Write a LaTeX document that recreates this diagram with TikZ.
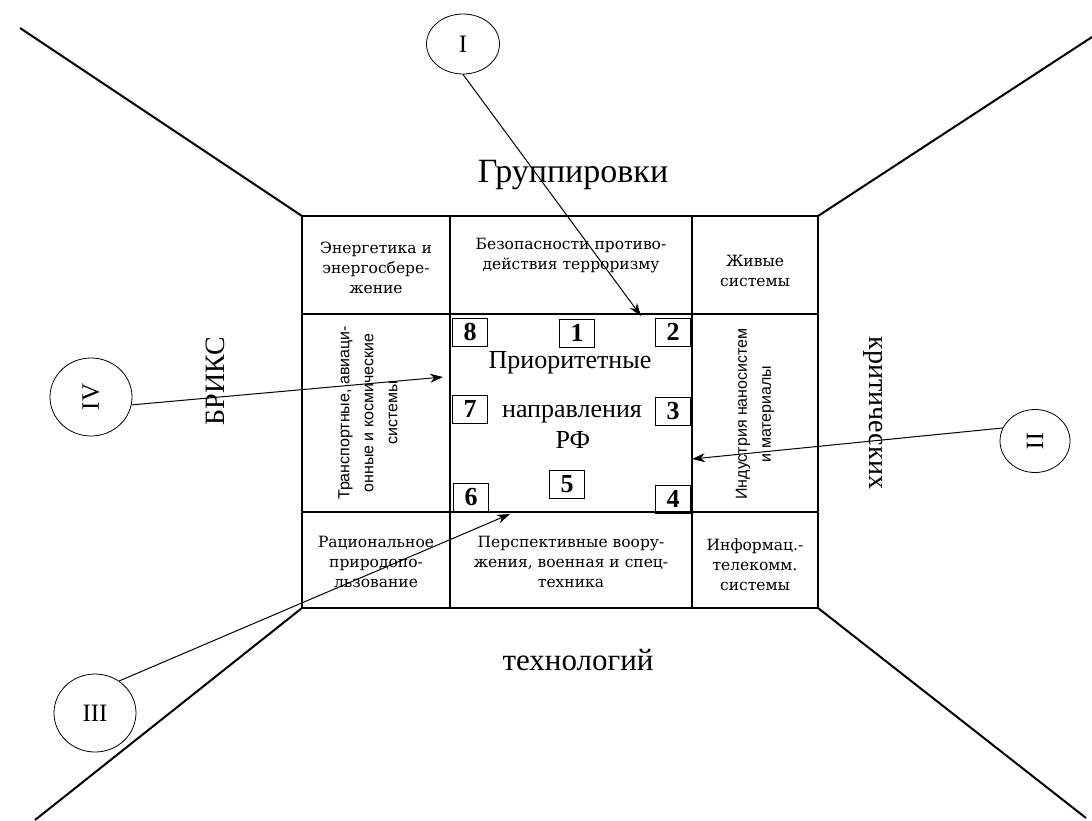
\documentclass[tikz,border=0pt]{standalone}
\usepackage{fontspec}
\setmainfont{Liberation Serif}
\newfontfamily\cellfont{DejaVu Serif}
\newfontfamily\sansf{Liberation Sans}
\usetikzlibrary{arrows.meta,shapes.geometric}
\begin{document}
\begin{tikzpicture}[x=1pt,y=-1pt,
  frame/.style={line width=2pt},
  persp/.style={line width=2pt},
  cell/.style={font=\cellfont\fontsize{15.5}{20}\selectfont, align=center, inner sep=0pt},
  rotcell/.style={font=\sansf\fontsize{16}{24}\selectfont, align=center, inner sep=0pt, rotate=90},
  numbox/.style={draw, line width=1pt, minimum width=35pt, minimum height=28pt, inner sep=0pt, font=\bfseries\fontsize{26}{26}\selectfont},
  center text/.style={font=\fontsize{26}{26}\selectfont, inner sep=0pt},
  outer/.style={font=\fontsize{31}{31}\selectfont, inner sep=0pt},
  roman/.style={draw, ellipse, line width=0.8pt, inner sep=0pt, font=\fontsize{25}{25}\selectfont},
  pointer/.style={line width=1pt, -{Stealth[length=13pt,width=9pt]}}
]
\useasboundingbox (0,0) rectangle (1092,820);

% perspective lines
\coordinate (gTL) at (302,216);
\coordinate (gTR) at (818,216);
\coordinate (gBL) at (302,608);
\coordinate (gBR) at (818,608);
\coordinate (eTL) at (20,28);
\coordinate (eTR) at (1092,37);
\coordinate (eBL) at (35,820);
\coordinate (eBR) at (1086,818);
\draw[persp] (eTL) -- (gTL);
\draw[persp] (eTR) -- (gTR);
\draw[persp] (eBL) -- (gBL);
\draw[persp] (eBR) -- (gBR);

% grid
\draw[frame] (302,216) rectangle (818,608);
\draw[frame] (450,216) -- (450,608);
\draw[frame] (692,216) -- (692,608);
\draw[frame] (302,314) -- (818,314);
\draw[frame] (302,512) -- (818,512);

% cell texts
\node[cell] (c11) at (376,268) {Энергетика и\\энергосбере-\\жение};
\node[cell] (c12) at (571,256) {Безопасности противо-\\действия терроризму};
\node[cell] (c13) at (755,271) {Живые\\системы};
\node[rotcell] (c21) at (368,413) {Транспортные, авиаци-\\онные и космические\\системы};
\node[rotcell] (c23) at (755,414) {Индустрия наносистем\\и материалы};
\node[cell] (c31) at (376,562) {Рациональное\\природопо-\\льзование};
\node[cell] (c32) at (571,562) {Перспективные воору-\\жения, военная и спец-\\техника};
\node[cell] (c33) at (755,565) {Информац.-\\телекомм.\\системы};

% number boxes
\node[numbox] (n8) at (470,332) {8};
\node[numbox] (n1) at (577,333) {1};
\node[numbox] (n2) at (673,332) {2};
\node[numbox] (n7) at (470,409) {7};
\node[numbox] (n3) at (673,411) {3};
\node[numbox] (n5) at (567,484) {5};
\node[numbox] (n6) at (471,497) {6};
\node[numbox] (n4) at (673,499) {4};

% central text
\node[center text] (t1) at (570,363) {Приоритетные};
\node[center text] (t2) at (572,414) {направления};
\node[center text] (t3) at (573,440) {РФ};

% outer labels
\node[outer, font=\fontsize{34}{34}\selectfont] (top) at (573,175) {Группировки};
\node[outer] (bottom) at (578,660) {технологий};
\node[outer, rotate=90, font=\fontsize{28}{28}\selectfont] (left) at (215,381) {БРИКС};
\node[outer, rotate=-90, font=\fontsize{28}{28}\selectfont] (right) at (873,413) {критических};

% roman circles
\node[roman, minimum width=73pt, minimum height=60pt] (cI) at (463,44) {I};
\node[roman, minimum width=70pt, minimum height=63pt] (cII) at (1035,441) {\rotatebox{-90}{II}};
\node[roman, minimum width=82pt, minimum height=78pt] (cIII) at (95,713) {III};
\node[roman, minimum width=82pt, minimum height=78pt] (cIV) at (91,397) {\rotatebox{90}{IV}};

% arrow targets
\coordinate (tI) at (641,316);
\coordinate (tII) at (692,459);
\coordinate (tIII) at (510,514);
\coordinate (tIV) at (443,377);

\draw[pointer] (cI.south) -- (tI);
\draw[pointer] (cII.158) -- (tII);
\draw[pointer] (cIII.53) -- (tIII);
\draw[pointer] (cIV.-11) -- (tIV);
\end{tikzpicture}
\end{document}
